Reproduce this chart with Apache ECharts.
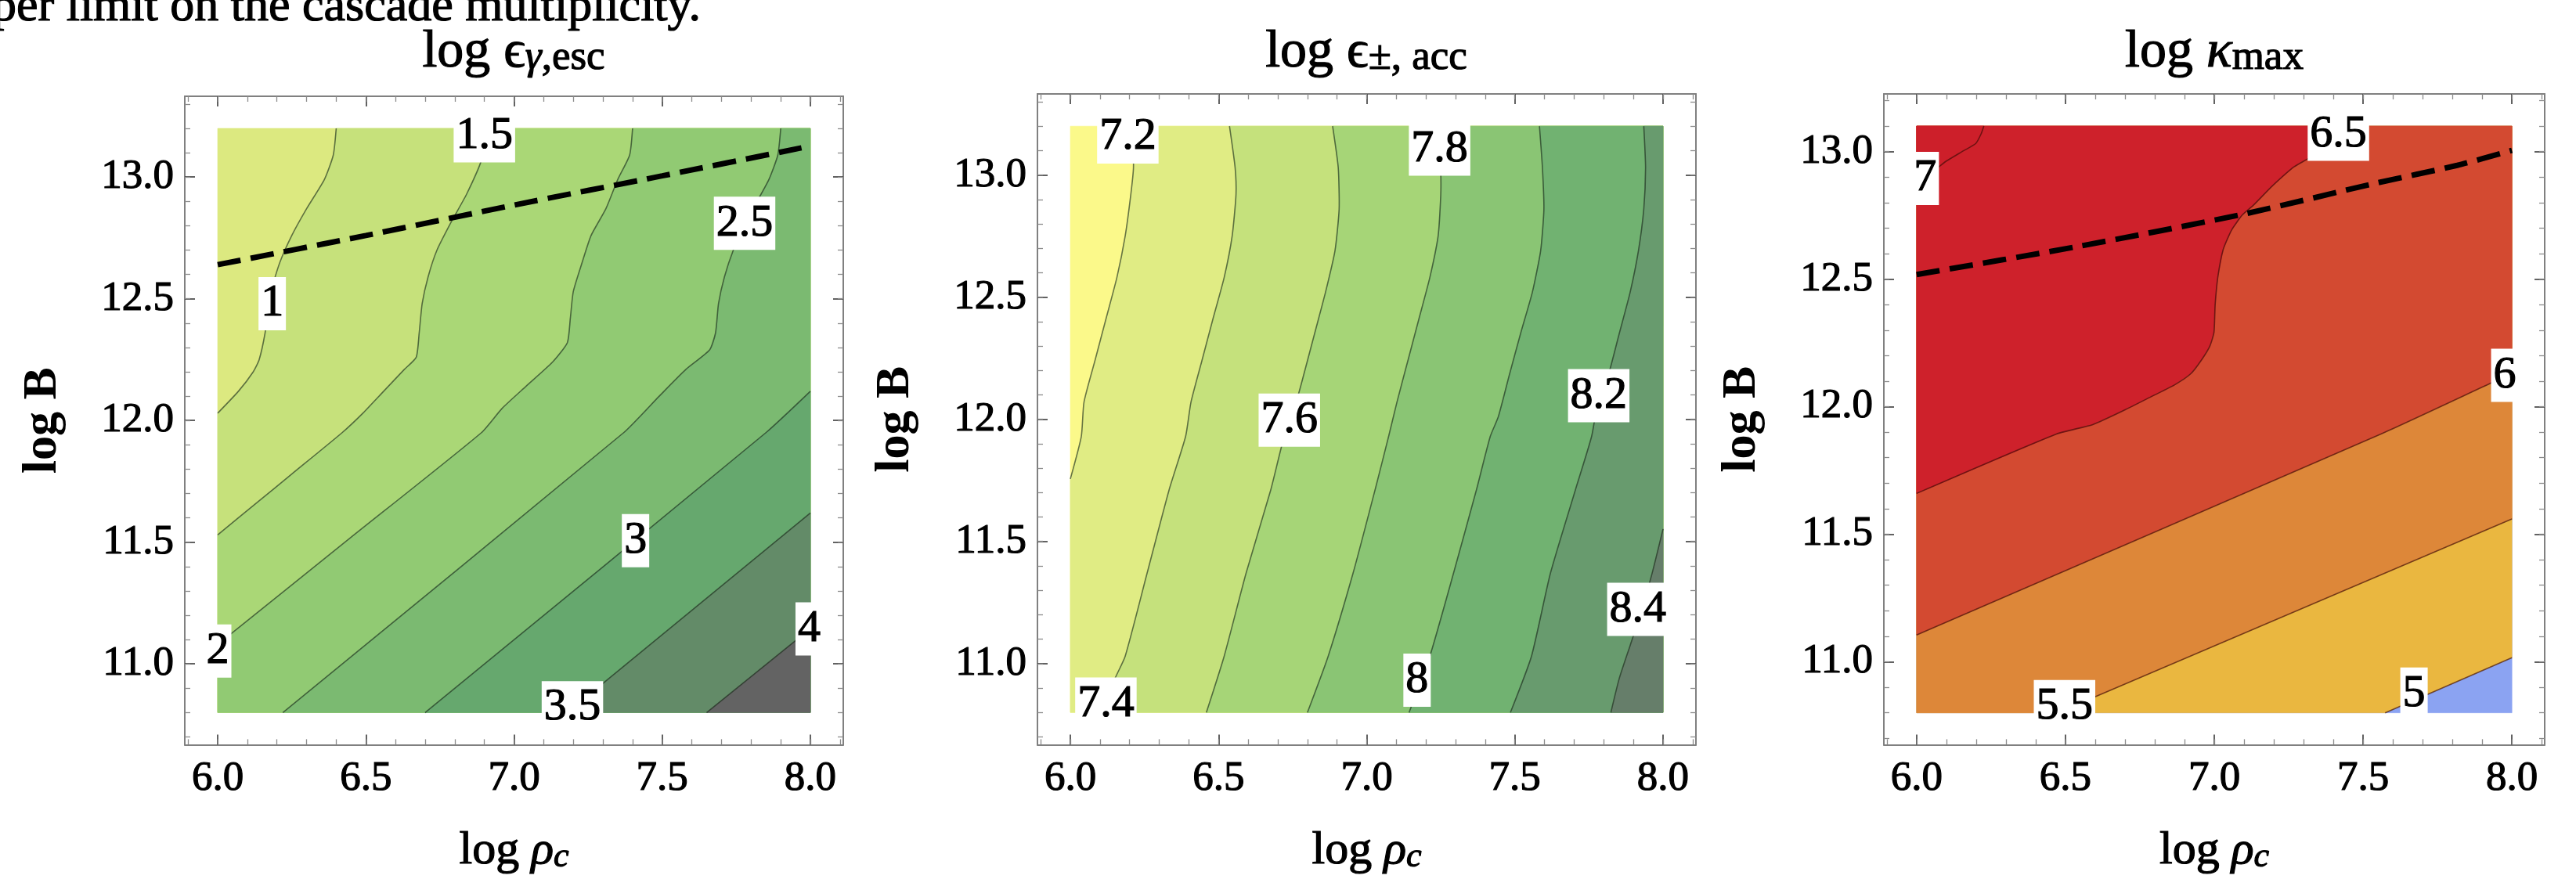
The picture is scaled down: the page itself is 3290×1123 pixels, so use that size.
<!DOCTYPE html>
<html>
<head>
<meta charset="utf-8">
<script src="https://cdn.jsdelivr.net/npm/echarts@6.0.0/dist/echarts.min.js"></script>
<style>
html,body{margin:0;padding:0;background:#ffffff;}
#chart{width:3290px;height:1123px;}
</style>
</head>
<body>
<div id="chart"></div>
<script>
// ---------------- tick values ----------------
const xMajorTicks = [6.0, 6.5, 7.0, 7.5, 8.0];
const xMinorTicks = [5.9,6.0,6.1,6.2,6.3,6.4,6.5,6.6,6.7,6.8,6.9,7.0,7.1,7.2,7.3,7.4,7.5,7.6,7.7,7.8,7.9,8.0,8.1];
const yMajorTicks = [11.0, 11.5, 12.0, 12.5, 13.0];
const yMinorTicks = [10.7,10.8,10.9,11.0,11.1,11.2,11.3,11.4,11.5,11.6,11.7,11.8,11.9,12.0,12.1,12.2,12.3,12.4,12.5,12.6,12.7,12.8,12.9,13.0,13.1,13.2,13.3];
const yMinorTicks3 = [10.7,10.8,10.9,11.0,11.1,11.2,11.3,11.4,11.5,11.6,11.7,11.8,11.9,12.0,12.1,12.2,12.3,12.4,12.5,12.6,12.7,12.8,12.9,13.0,13.1,13.2];

// ---------------- panel 1 : log eps_gamma,esc ----------------
const p1Extent = [6.0, 8.0, 10.8, 13.2];
const p1C10 = [[6.40,13.20],[6.39,13.09],[6.36,12.99],[6.30,12.87],[6.25,12.76],[6.21,12.65],[6.18,12.53],[6.16,12.36],[6.14,12.25],[6.12,12.20],[6.07,12.12],[6.00,12.03]];
const p1C15 = [[6.90,13.20],[6.89,13.07],[6.84,12.93],[6.79,12.82],[6.74,12.70],[6.71,12.59],[6.69,12.48],[6.68,12.36],[6.67,12.26],[6.63,12.21],[6.56,12.12],[6.49,12.03],[6.42,11.95],[6.25,11.78],[6.13,11.66],[6.00,11.53]];
const p1C20 = [[7.40,13.20],[7.39,13.09],[7.35,12.99],[7.31,12.87],[7.26,12.76],[7.23,12.65],[7.20,12.53],[7.19,12.42],[7.18,12.32],[7.13,12.24],[7.04,12.14],[6.96,12.05],[6.89,11.95],[6.45,11.52],[6.00,11.08]];
const p1C25 = [[7.90,13.20],[7.89,13.09],[7.86,12.99],[7.82,12.90],[7.78,12.81],[7.74,12.70],[7.71,12.59],[7.69,12.48],[7.68,12.36],[7.66,12.29],[7.58,12.21],[7.49,12.10],[7.37,11.95],[6.22,10.80]];
const p1C30 = [[8.00,12.12],[7.85,11.95],[6.70,10.80]];
const p1C35 = [[8.00,11.62],[7.18,10.80]];
const p1C40 = [[8.00,11.145],[7.65,10.80]];
const p1LabelPos = [[6.90,13.17],[6.184,12.48],[7.778,12.81],[6.0,11.053],[7.41,11.506],[7.197,10.82],[7.996,11.144]];
const p1LabelText = ['1.5','1','2.5','2','3','3.5','4'];
const p1Dashed = [[6.0,12.64],[6.5,12.76],[7.0,12.885],[7.5,13.005],[7.97,13.12]];

// ---------------- panel 2 : log eps_pm,acc ----------------
const p2Extent = [6.0, 8.0, 10.8, 13.2];
const p2C72 = [[6.21,13.20],[6.213,13.03],[6.204,12.92],[6.185,12.75],[6.157,12.58],[6.12,12.41],[6.083,12.24],[6.046,12.07],[6.037,11.93],[6.00,11.756]];
const p2C74 = [[6.537,13.20],[6.556,13.03],[6.559,12.92],[6.546,12.75],[6.519,12.58],[6.481,12.41],[6.444,12.24],[6.407,12.07],[6.389,11.93],[6.333,11.71],[6.259,11.37],[6.185,11.03],[6.144,10.92],[6.124,10.80]];
const p2C76 = [[6.885,13.20],[6.904,13.03],[6.907,12.86],[6.893,12.69],[6.861,12.52],[6.824,12.35],[6.787,12.18],[6.769,12.10],[6.741,12.00],[6.713,11.89],[6.676,11.71],[6.593,11.37],[6.519,11.03],[6.459,10.80]];
const p2C78 = [[7.244,13.20],[7.25,13.01],[7.25,12.92],[7.241,12.75],[7.213,12.58],[7.176,12.41],[7.139,12.24],[7.102,12.07],[7.074,11.93],[7.028,11.71],[6.954,11.37],[6.87,11.03],[6.80,10.80]];
const p2C80 = [[7.583,13.20],[7.593,13.03],[7.598,12.86],[7.587,12.69],[7.559,12.52],[7.519,12.35],[7.481,12.18],[7.444,12.01],[7.417,11.93],[7.37,11.71],[7.293,11.37],[7.213,11.03],[7.143,10.80]];
const p2C82 = [[7.935,13.20],[7.941,13.03],[7.935,12.86],[7.917,12.69],[7.889,12.52],[7.852,12.35],[7.815,12.18],[7.783,12.09],[7.759,11.93],[7.704,11.71],[7.62,11.37],[7.556,11.03],[7.485,10.80]];
const p2C84 = [[8.00,11.551],[7.963,11.369],[7.926,11.21],[7.889,11.074],[7.852,10.938],[7.824,10.80]];
const p2LabelPos = [[6.194,13.156],[7.246,13.106],[6.739,11.997],[7.783,12.097],[7.915,11.222],[7.17,10.932],[6.12,10.834]];
const p2LabelText = ['7.2','7.8','7.6','8.2','8.4','8','7.4'];

// ---------------- panel 3 : log kappa_max ----------------
const p3Extent = [6.0, 8.0, 10.8, 13.1];
const p3C50 = [[8.00,11.016],[7.574,10.80]];
const p3C55 = [[8.00,11.56],[6.473,10.80]];
const p3C60 = [[8.00,12.13],[7.943,12.10],[7.56,11.893],[6.00,11.105]];
const p3C65 = [[7.41,13.10],[7.341,12.992],[7.268,12.94],[7.195,12.865],[7.131,12.789],[7.094,12.751],[7.058,12.692],[7.03,12.616],[7.012,12.508],[7.003,12.40],[6.999,12.291],[6.985,12.237],[6.957,12.183],[6.921,12.129],[6.866,12.085],[6.793,12.042],[6.701,11.988],[6.592,11.93],[6.47,11.893],[6.00,11.66]];
const p3C70 = [[6.226,13.10],[6.217,13.07],[6.199,13.032],[6.153,13.00],[6.099,12.962],[6.062,12.93],[6.00,12.897]];
const p3LabelPos = [[6.029,12.895],[7.417,13.068],[7.976,12.123],[6.497,10.824],[7.671,10.873]];
const p3LabelText = ['7','6.5','6','5.5','5'];
const p3Dashed = [[6.0,12.518],[6.537,12.627],[7.103,12.756],[7.542,12.876],[7.816,12.946],[8.0,13.005]];

// ---------------- styles ----------------
const FONT = 'Liberation Serif';
const INK = 1.2; // slight emboldening to mimic the heavier reference glyphs
const p1Colors = ['#DCE980','#C6E17B','#AAD776','#91CA73','#7BBA71','#66A86E','#638B68','#636363'];
const p2Colors = ['#FBF98A','#E0EC84','#C5E17C','#A6D577','#8AC574','#71B271','#689B6E','#667E6A'];
const p3Colors = ['#8BA3F2','#EAB740','#DD8739','#D34A31','#CE212B','#CD1F2A'];

const panels = [
  {grid:{left:236,top:123,width:841,height:842}, xr:[5.889,8.111], yr:[10.668,13.332], yMinor:yMinorTicks,
   extent:p1Extent, contours:[p1C10,p1C15,p1C20,p1C25,p1C30,p1C35,p1C40], colors:p1Colors, refCorner:1,
   lineColor:'rgba(25,40,25,0.62)', labelPos:p1LabelPos, labelText:p1LabelText, dashed:p1Dashed},
  {grid:{left:1325,top:120,width:841,height:842}, xr:[5.889,8.111], yr:[10.668,13.332], yMinor:yMinorTicks,
   extent:p2Extent, contours:[p2C72,p2C74,p2C76,p2C78,p2C80,p2C82,p2C84], colors:p2Colors, refCorner:1,
   lineColor:'rgba(25,40,25,0.62)', labelPos:p2LabelPos, labelText:p2LabelText, dashed:null},
  {grid:{left:2406,top:120,width:844,height:844}, xr:[5.89,8.11], yr:[10.675,13.226], yMinor:yMinorTicks3,
   extent:p3Extent, contours:[p3C50,p3C55,p3C60,p3C65,p3C70], colors:p3Colors, refCorner:3,
   lineColor:'rgba(60,10,5,0.65)', labelPos:p3LabelPos, labelText:p3LabelText, dashed:p3Dashed}
];

// ---------------- geometry helpers (contour -> filled region) ----------------
function perimT(p, e) {
  const [x0,x1,y0,y1] = e, [x,y] = p;
  const dB = Math.abs(y-y0), dR = Math.abs(x-x1), dT = Math.abs(y-y1), dL = Math.abs(x-x0);
  const m = Math.min(dB,dR,dT,dL);
  if (m === dB) return (x-x0)/(x1-x0);
  if (m === dR) return 1 + (y-y0)/(y1-y0);
  if (m === dT) return 2 + (x1-x)/(x1-x0);
  return 3 + (y1-y)/(y1-y0);
}
function rectPoly(e) { const [x0,x1,y0,y1] = e; return [[x0,y0],[x1,y0],[x1,y1],[x0,y1]]; }
function highSide(c, e, refT) {
  const corners = rectPoly(e);
  const tA = perimT(c[0], e), tB = perimT(c[c.length-1], e);
  const fwd = ((tA - tB) % 4 + 4) % 4;
  const refF = ((refT - tB) % 4 + 4) % 4;
  const pts = c.slice();
  if (refF < fwd) {
    for (let k = Math.ceil(tB); k < tB + fwd; k++) pts.push(corners[((k%4)+4)%4]);
  } else {
    const bwd = 4 - fwd;
    for (let k = Math.floor(tB); k > tB - bwd; k--) pts.push(corners[((k%4)+4)%4]);
  }
  return pts;
}

// ---------------- axes & series ----------------
const xAxes = [], yAxes = [], grids = [], series = [];
const frameLine = {show:true, onZero:false, lineStyle:{color:'#808080', width:2}};
const majTick = v => ({show:true, inside:true, length:13, lineStyle:{color:'#3a3a3a', width:1.6}, customValues:v});
const minTick = v => ({show:true, inside:true, length:7, lineStyle:{color:'#8c8c8c', width:1.3}, customValues:v});
const tickLabel = (v, m) => ({show:true, customValues:v, formatter: x => Number(x).toFixed(1), fontFamily:FONT, fontSize:53, color:'#000',
  textBorderColor:'#000', textBorderWidth:INK, margin:m});

panels.forEach((P, g) => {
  grids.push(Object.assign({containLabel:false}, P.grid));
  const cx = {type:'value', gridIndex:g, min:P.xr[0], max:P.xr[1], splitLine:{show:false}, axisPointer:{show:false}};
  const cy = {type:'value', gridIndex:g, min:P.yr[0], max:P.yr[1], splitLine:{show:false}, axisPointer:{show:false}};
  const nm = {color:'#000', textBorderColor:'#000', textBorderWidth:INK, verticalAlign:'bottom'};
  xAxes.push(Object.assign({}, cx, {position:'bottom', axisLine:frameLine, axisTick:majTick(xMajorTicks), axisLabel:tickLabel(xMajorTicks,17),
    name:'{a|log }{r|ρ}{s|c}', nameLocation:'middle', nameGap:96,
    nameTextStyle:{fontFamily:FONT, fontSize:60, color:'#000', verticalAlign:'top', rich:{
      a:Object.assign({fontFamily:FONT, fontSize:60, lineHeight:70}, nm),
      r:Object.assign({fontFamily:FONT, fontSize:60, fontStyle:'italic', lineHeight:70}, nm),
      s:Object.assign({fontFamily:FONT, fontSize:44, fontStyle:'italic', lineHeight:40}, nm)}}}));
  xAxes.push(Object.assign({}, cx, {position:'bottom', axisLine:{show:false}, axisTick:minTick(xMinorTicks), axisLabel:{show:false}}));
  xAxes.push(Object.assign({}, cx, {position:'top', axisLine:frameLine, axisTick:majTick(xMajorTicks), axisLabel:{show:false}}));
  xAxes.push(Object.assign({}, cx, {position:'top', axisLine:{show:false}, axisTick:minTick(xMinorTicks), axisLabel:{show:false}}));
  yAxes.push(Object.assign({}, cy, {position:'left', axisLine:frameLine, axisTick:majTick(yMajorTicks), axisLabel:tickLabel(yMajorTicks,14),
    name:'log B', nameLocation:'middle', nameRotate:90, nameGap:150,
    nameTextStyle:{fontFamily:FONT, fontSize:62, color:'#000', fontWeight:'bold'}}));
  yAxes.push(Object.assign({}, cy, {position:'left', axisLine:{show:false}, axisTick:minTick(P.yMinor), axisLabel:{show:false}}));
  yAxes.push(Object.assign({}, cy, {position:'right', axisLine:frameLine, axisTick:majTick(yMajorTicks), axisLabel:{show:false}}));
  yAxes.push(Object.assign({}, cy, {position:'right', axisLine:{show:false}, axisTick:minTick(P.yMinor), axisLabel:{show:false}}));

  const polys = [rectPoly(P.extent)].concat(P.contours.map(c => highSide(c, P.extent, P.refCorner)));
  series.push({
    type:'custom', coordinateSystem:'cartesian2d', xAxisIndex:4*g, yAxisIndex:4*g, silent:true, z:1,
    data: polys.map((p,i) => [p[0][0], p[0][1], i]),
    renderItem: (params, api) => ({
      type:'polygon', z2: params.dataIndex,
      shape:{points: polys[params.dataIndex].map(pt => api.coord(pt))},
      style:{fill:P.colors[params.dataIndex], stroke:P.colors[params.dataIndex], lineWidth:0.6}
    })
  });
  series.push({
    type:'custom', coordinateSystem:'cartesian2d', xAxisIndex:4*g, yAxisIndex:4*g, silent:true, z:2,
    data: P.contours.map((c,i) => [c[0][0], c[0][1], i]),
    renderItem: (params, api) => ({
      type:'polyline',
      shape:{points: P.contours[params.dataIndex].map(pt => api.coord(pt)), smooth:0.2},
      style:{stroke:P.lineColor, lineWidth:1.6, fill:null}
    })
  });
  if (P.dashed) {
    series.push({type:'line', xAxisIndex:4*g, yAxisIndex:4*g, data:P.dashed, symbol:'none', showSymbol:false, silent:true, z:3,
      smooth:0.25, lineStyle:{color:'#000', width:7, type:[30,13]}});
  }
  series.push({
    type:'custom', coordinateSystem:'cartesian2d', xAxisIndex:4*g, yAxisIndex:4*g, silent:true, z:5,
    data: P.labelPos.map((p,i) => [p[0], p[1], i]),
    renderItem: (params, api) => {
      const pt = api.coord([api.value(0), api.value(1)]);
      return {type:'text', x:pt[0], y:pt[1], z2:10,
        style:{text:P.labelText[params.dataIndex], fontFamily:FONT, fontSize:58, fill:'#000', stroke:'#000', lineWidth:INK,
          align:'center', verticalAlign:'middle', backgroundColor:'#ffffff', padding:[5,3], lineHeight:58}};
    }
  });
});

// ---------------- titles ----------------
const tk = {fill:'#000', stroke:'#000', lineWidth:INK, verticalAlign:'bottom'};
const titleRich = {
  a:Object.assign({fontFamily:FONT, fontSize:68, lineHeight:82}, tk),
  k:Object.assign({fontFamily:FONT, fontSize:68, fontStyle:'italic', lineHeight:82}, tk),
  g:Object.assign({fontFamily:FONT, fontSize:53, fontStyle:'italic', lineHeight:52}, tk),
  s:Object.assign({fontFamily:FONT, fontSize:53, lineHeight:52}, tk)
};
const titles = [
  {x:656, text:'{a|log ϵ}{g|γ}{s|,esc}'},
  {x:1745, text:'{a|log ϵ}{s|±, acc}'},
  {x:2828, text:'{a|log }{k|κ}{s|max}'}
];
const graphic = titles.map(t => ({type:'text', x:t.x, y:60, silent:true,
  style:{text:t.text, rich:titleRich, align:'center', verticalAlign:'middle', fontFamily:FONT, fontSize:68, fill:'#000'}}));
graphic.push({type:'text', x:-10, y:10, silent:true,
  style:{text:'per limit on the cascade multiplicity.', fontFamily:FONT, fontSize:62, fill:'#000', stroke:'#000', lineWidth:INK,
    align:'left', verticalAlign:'middle'}});

const chart = echarts.init(document.getElementById('chart'), null, {renderer:'canvas'});
chart.setOption({
  animation:false,
  backgroundColor:'#ffffff',
  grid:grids, xAxis:xAxes, yAxis:yAxes, series:series, graphic:graphic,
  tooltip:{show:false}
});
</script>
</body>
</html>
